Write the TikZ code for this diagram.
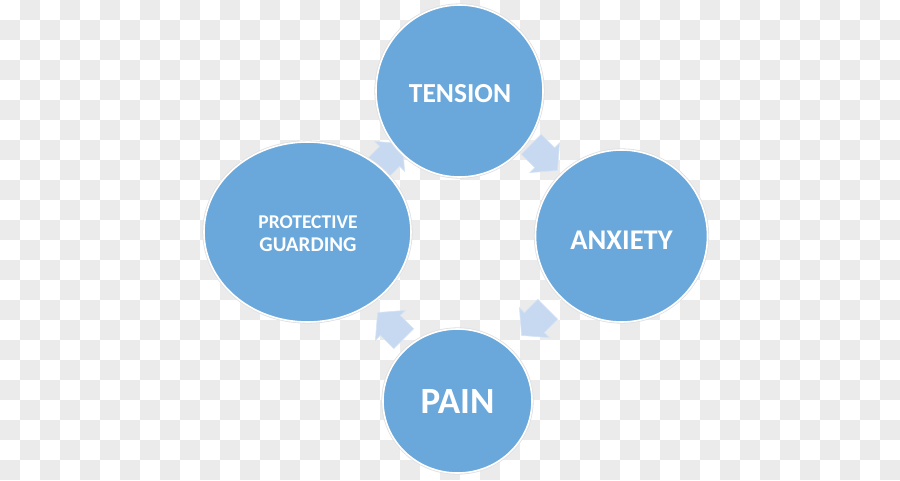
\documentclass[tikz,border=0pt]{standalone}
\usepackage{fontspec}
\setmainfont{Carlito}
\usetikzlibrary{shapes.geometric}
\definecolor{bubble}{RGB}{106,168,219}
\definecolor{arrowblue}{RGB}{198,217,241}
\definecolor{checkgray}{RGB}{235,235,235}
\tikzset{
  bubble/.style={ellipse, fill=bubble, draw=white, line width=1.6pt, inner sep=0pt,
    preaction={draw=black!12, line width=3.2pt}},
  bubbletext/.style={text=white, align=center},
  cycarrow/.pic={
    \fill[arrowblue, draw=arrowblue!70!white, line width=0.6pt]
      (-18,-14) -- (1,-14) -- (1,-21) -- (19,0) -- (1,21) -- (1,14) -- (-18,14) -- cycle;
  }
}
\begin{document}
\begin{tikzpicture}[x=1pt,y=-1pt]
\useasboundingbox (0,0) rectangle (900,480);
\fill[white] (0,0) rectangle (900,480);
\foreach \j in {0,...,23}{
  \foreach \i in {0,...,44}{
    \ifodd\numexpr\i+\j\relax
      \fill[checkgray] (\i*20,\j*20) rectangle ++(20,20);
    \fi
  }
}
% cycle arrows (drawn under the circles)
\pic[rotate=-45] at (544,157) {cycarrow};
\pic[rotate=-135] at (535,322) {cycarrow};
\pic[rotate=135] at (391,326) {cycarrow};
\pic[rotate=45] at (389,157) {cycarrow};
% circles
\node[bubble, minimum width=167pt, minimum height=172pt] (ten) at (459.5,91) {};
\node[bubble, minimum width=172pt, minimum height=172pt] (anx) at (621.5,236) {};
\node[bubble, minimum width=149pt, minimum height=144pt] (pain) at (457.5,401) {};
\node[bubble, minimum width=207pt, minimum height=180pt] (pg) at (307.5,232) {};
% labels
\node[bubbletext, font=\fontsize{27.5}{30}\selectfont\bfseries] (tenl) at (460,93.5) {TENSION};
\node[bubbletext, font=\fontsize{28.5}{30}\selectfont\bfseries] (anxl) at (621.5,240) {ANXIETY};
\node[bubbletext, font=\fontsize{37}{40}\selectfont\bfseries] (painl) at (457.5,401.5) {PAIN};
\node[bubbletext, font=\fontsize{19.5}{23.5}\selectfont\bfseries] (pgl) at (308,233.5)
  {PROTECTIVE\\{\fontsize{21}{23.5}\selectfont GUARDING}};
\end{tikzpicture}
\end{document}
